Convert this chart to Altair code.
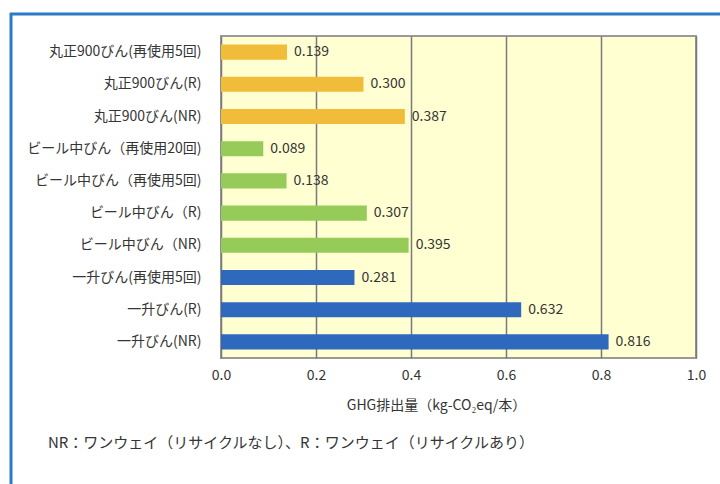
import altair as alt
import pandas as pd

# Bottle types, top to bottom
categories = [
    "丸正900びん(再使用5回)",
    "丸正900びん(R)",
    "丸正900びん(NR)",
    "ビール中びん（再使用20回)",
    "ビール中びん（再使用5回)",
    "ビール中びん（R)",
    "ビール中びん（NR)",
    "一升びん(再使用5回)",
    "一升びん(R)",
    "一升びん(NR)",
]
# GHG emissions per bottle (kg-CO2eq)
values = [0.139, 0.300, 0.387, 0.089, 0.138, 0.307, 0.395, 0.281, 0.632, 0.816]
groups = ["丸正900", "丸正900", "丸正900", "ビール中", "ビール中",
          "ビール中", "ビール中", "一升", "一升", "一升"]

group_names = ["丸正900", "ビール中", "一升"]
group_colors = ["#F2BC3B", "#97CB59", "#2F69BE"]

x_ticks = [0.0, 0.2, 0.4, 0.6, 0.8, 1.0]

df = pd.DataFrame({"name": categories, "value": values, "group": groups})
df["label"] = df["value"].map(lambda v: f"{v:.3f}")

FONT = "Noto Sans CJK JP"
TEXT = "#353535"

x_enc = alt.X(
    "value:Q",
    scale=alt.Scale(domain=[0, 1.0], nice=False, zero=True),
    axis=alt.Axis(
        values=x_ticks,
        format=".1f",
        grid=True,
        gridColor="#7A7A7A",
        gridWidth=1.5,
        ticks=False,
        domain=False,
        labelFlush=False,
        labelPadding=10,
        labelFontSize=14,
        labelColor=TEXT,
        labelFont=FONT,
        title="GHG排出量（kg-CO₂eq/本）",
        titleFont=FONT,
        titleFontSize=14,
        titleFontWeight="normal",
        titleColor=TEXT,
        titlePadding=16,
        titleX=215,
    ),
)
y_enc = alt.Y(
    "name:N",
    sort=categories,
    scale=alt.Scale(paddingInner=0.53, paddingOuter=0.265),
    axis=alt.Axis(
        ticks=False,
        domain=False,
        grid=False,
        labelPadding=20,
        labelFontSize=14,
        labelColor=TEXT,
        labelFont=FONT,
        title=None,
    ),
)

bars = alt.Chart(df).mark_bar().encode(
    x=x_enc,
    y=y_enc,
    color=alt.Color(
        "group:N",
        scale=alt.Scale(domain=group_names, range=group_colors),
        legend=None,
    ),
)

labels = alt.Chart(df).mark_text(
    align="left", baseline="middle", dx=7, fontSize=14, font=FONT, color=TEXT
).encode(
    x="value:Q",
    y=alt.Y("name:N", sort=categories),
    text="label:N",
)

note_df = pd.DataFrame({"t": ["NR：ワンウェイ（リサイクルなし）、R：ワンウェイ（リサイクルあり）"]})
note = alt.Chart(note_df).mark_text(
    align="left", baseline="middle", fontSize=15, font=FONT, color=TEXT
).encode(
    x=alt.value(-173),
    y=alt.value(407),
    text="t:N",
)

# Blue frame around the figure (top and left edges)
frame_top = alt.Chart(note_df).mark_rule(color="#2A7BC8", strokeWidth=3).encode(
    x=alt.value(-211), x2=alt.value(499), y=alt.value(-22)
)
frame_left = alt.Chart(note_df).mark_rule(color="#2A7BC8", strokeWidth=3).encode(
    x=alt.value(-210), y=alt.value(-23), y2=alt.value(448)
)

chart = (
    alt.layer(bars, labels, note, frame_top, frame_left)
    .properties(
        width=475,
        height=322,
        padding={"left": 221, "top": 36, "right": 24, "bottom": 126},
        autosize=alt.AutoSizeParams(type="none"),
        background="white",
    )
    .configure_view(fill="#FFFFD2", stroke="#9A9A9A", strokeWidth=2)
)

chart.save("out.html", embed_options={"renderer": "svg", "actions": False})
